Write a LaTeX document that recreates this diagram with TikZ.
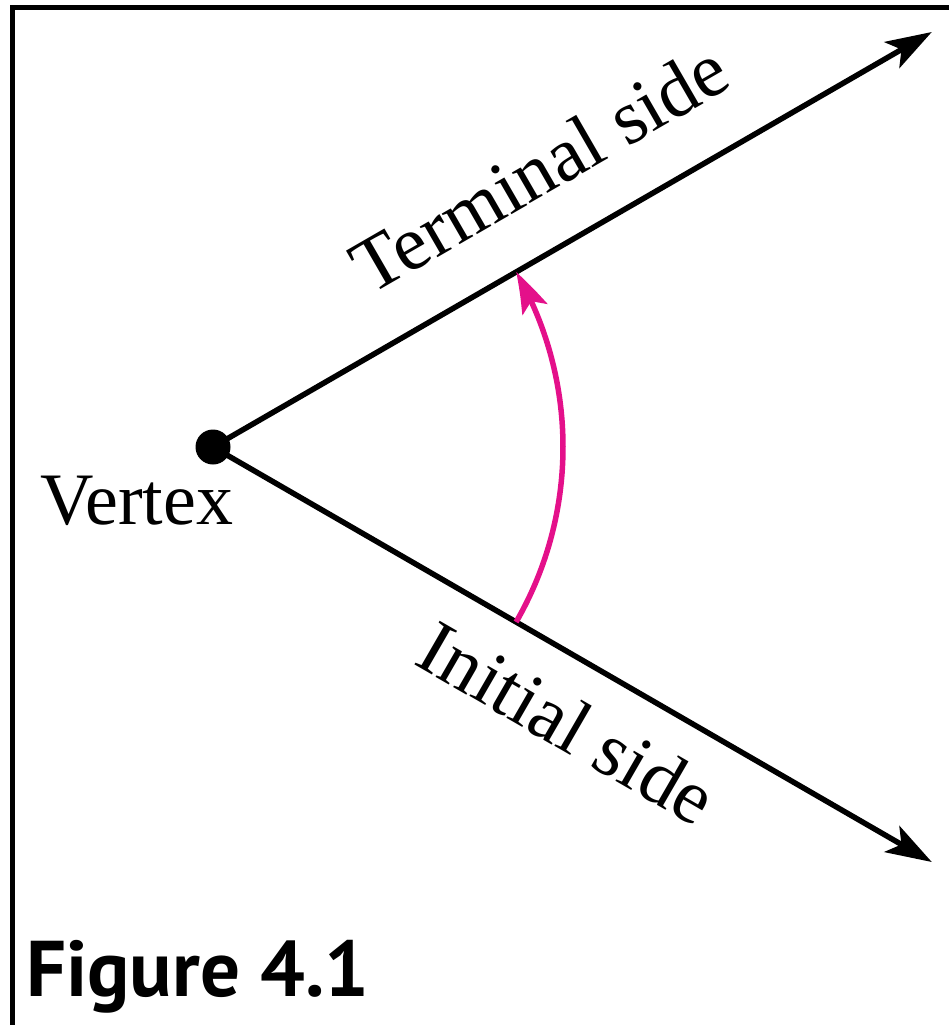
\documentclass[tikz,border=0pt]{standalone}
\usepackage{fontspec}
\setmainfont{Liberation Serif}
\setsansfont{PT Sans}
\usetikzlibrary{arrows.meta,calc,bending}
\definecolor{angpink}{HTML}{E4108A}
\begin{document}
\begin{tikzpicture}[x=1pt,y=1pt,
  raystyle/.style={line width=5.5pt, -{Stealth[length=46pt,width=30pt,inset=11pt]}},
  angarrow/.style={draw=angpink,line width=5.5pt,-{Stealth[length=42pt,width=27pt,inset=9pt,bend]}},
  lbl/.style={font=\fontsize{74}{80}\selectfont, inner sep=0pt},
  rlbl/.style={font=\fontsize{77}{80}\selectfont, inner sep=0pt},
  dot/.style={circle,fill=black,inner sep=0pt,minimum size=35pt}
]
\useasboundingbox (0,0) rectangle (949,-1025);
\draw[line width=4.5pt] (12.5,-1025) -- (12.5,-7.5) -- (949,-7.5);
\node[dot] (V) at (213,-447) {};
\coordinate (T) at ($(V.center)+(30:830)$);
\coordinate (I) at ($(V.center)+(-30:830)$);
\draw[raystyle] (V.center) -- (T);
\draw[raystyle] (V.center) -- (I);
\draw[angarrow] ($(V.center)+(-30:350)$) arc[start angle=-30,end angle=30,radius=350];
\node[rlbl,anchor=base,rotate=30] (tl) at ($(V.center)+(30:422)+(120:52)$) {Terminal side};
\node[rlbl,anchor=base,rotate=-30] (il) at ($(V.center)+(-30:445)+(-120:88)$) {Initial side};
\node[lbl,anchor=base west] (vl) at (40,-524) {Vertex};
\node[anchor=base west, inner sep=0pt, font=\sffamily\bfseries\fontsize{79}{84}\selectfont] (fig) at (26,-996) {Figure 4.1};
\end{tikzpicture}
\end{document}
